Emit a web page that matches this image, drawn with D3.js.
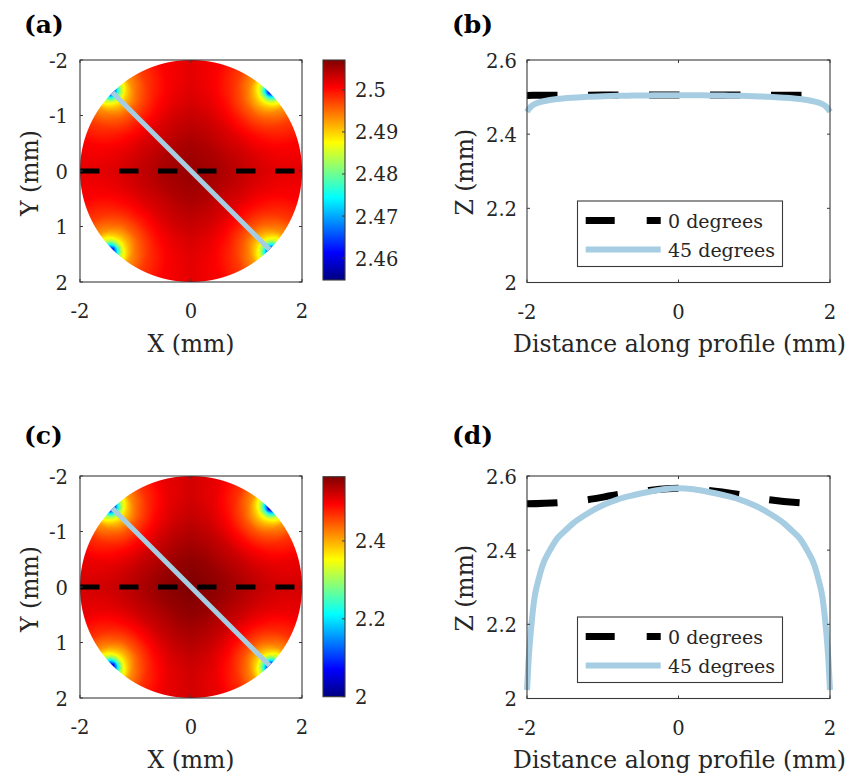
<!DOCTYPE html>
<html><head><meta charset="utf-8">
<script src="https://cdn.jsdelivr.net/npm/d3@7"></script>
<style>
body{margin:0;background:#fff}
svg{display:block}
text{font-family:"DejaVu Serif",serif;fill:#262626}
</style>
</head><body>
<svg id="fig" width="849" height="776"></svg>
<script>
// ---------------- DATA ----------------
// Surface maps: polar grid (radius in mm x folded angle in degrees, 4-fold symmetric)
const gridRadii = [0, 0.5, 1.0, 1.3, 1.55, 1.72, 1.82, 1.9, 1.95, 2.0];
const gridAngles = [0, 15, 27, 35, 40, 43, 45];
const surfaceA = [
  [2.5060,2.5060,2.5060,2.5060,2.5060,2.5060,2.5060],
  [2.5050,2.5049,2.5048,2.5048,2.5048,2.5048,2.5048],
  [2.5034,2.5030,2.5026,2.5023,2.5022,2.5021,2.5021],
  [2.5025,2.5017,2.5005,2.4996,2.4993,2.4992,2.4991],
  [2.5021,2.5010,2.4988,2.4968,2.4958,2.4955,2.4955],
  [2.5020,2.5007,2.4980,2.4950,2.4923,2.4913,2.4911],
  [2.5020,2.5007,2.4977,2.4938,2.4897,2.4877,2.4873],
  [2.5020,2.5007,2.4976,2.4931,2.4867,2.4808,2.4799],
  [2.5019,2.5007,2.4975,2.4927,2.4850,2.4740,2.4689],
  [2.5020,2.5008,2.4976,2.4927,2.4833,2.4680,2.4599]
];
const surfaceC = [
  [2.5670,2.5670,2.5670,2.5670,2.5670,2.5670,2.5670],
  [2.5550,2.5540,2.5530,2.5527,2.5526,2.5525,2.5525],
  [2.5366,2.5313,2.5265,2.5236,2.5221,2.5216,2.5216],
  [2.5261,2.5168,2.5023,2.4917,2.4878,2.4866,2.4864],
  [2.5212,2.5082,2.4825,2.4586,2.4473,2.4437,2.4431],
  [2.5196,2.5051,2.4729,2.4374,2.4059,2.3939,2.3915],
  [2.5195,2.5048,2.4690,2.4234,2.3757,2.3522,2.3470],
  [2.5194,2.5050,2.4676,2.4150,2.3400,2.2700,2.2600],
  [2.5192,2.5052,2.4673,2.4100,2.3200,2.1900,2.1300],
  [2.5195,2.5060,2.4684,2.4100,2.3000,2.1200,2.0250]
];
const colorDomainA = [2.4548, 2.5071];
const colorDomainC = [2.0, 2.565];
const colorTicksA = [2.46, 2.47, 2.48, 2.49, 2.5];
const colorTickLabelsA = ["2.46", "2.47", "2.48", "2.49", "2.5"];
const colorTicksC = [2.0, 2.2, 2.4];
const colorTickLabelsC = ["2", "2.2", "2.4"];
const mapXTicks = [-2, 0, 2];
const mapXTickLabels = ["-2", "0", "2"];
const mapYTicks = [-2, -1, 0, 1, 2];
const mapYTickLabels = ["-2", "-1", "0", "1", "2"];

// Profiles
const profileX45 = [-2,-1.98,-1.95,-1.9,-1.85,-1.8,-1.7,-1.6,-1.5,-1.4,-1.2,-1.0,-0.8,-0.6,-0.4,-0.2,0,
                    0.2,0.4,0.6,0.8,1.0,1.2,1.4,1.5,1.6,1.7,1.8,1.85,1.9,1.95,1.98,2];
const profileB45 = [2.460,2.467,2.474,2.481,2.485,2.488,2.492,2.495,2.497,2.4985,2.501,2.5025,2.5035,2.504,2.5045,2.505,2.505,
                    2.505,2.5045,2.504,2.5035,2.5025,2.501,2.4985,2.497,2.495,2.492,2.488,2.485,2.481,2.474,2.467,2.460];
const profileD45 = [2.023,2.100,2.180,2.273,2.319,2.356,2.399,2.432,2.452,2.471,2.499,2.521,2.537,2.548,2.557,2.564,2.567,
                    2.564,2.557,2.548,2.537,2.521,2.499,2.471,2.452,2.432,2.399,2.356,2.319,2.273,2.180,2.100,2.023];
const profileX0 = [-2,-1.6,-1.2,-0.8,-0.4,0,0.4,0.8,1.2,1.6,2];
const profileB0 = [2.5045,2.5050,2.5052,2.5054,2.5056,2.5057,2.5056,2.5054,2.5052,2.5050,2.5045];
const profileD0 = [2.525,2.528,2.536,2.550,2.561,2.567,2.561,2.550,2.536,2.528,2.525];
const profXTicks = [-2, 0, 2];
const profXTickLabels = ["-2", "0", "2"];
const profYTicks = [2, 2.2, 2.4, 2.6];
const profYTickLabels = ["2", "2.2", "2.4", "2.6"];
const legendLabels = ["0 degrees", "45 degrees"];
const panelTitles = ["(a)", "(b)", "(c)", "(d)"];

// ---------------- STYLE ----------------
const AX = "#3a3a3a";
const BLUE = "#a6cde2";
const jetStops = [0, 0.125, 0.375, 0.625, 0.875, 1];
const jetColors = ["#000080", "#0000ff", "#00ffff", "#ffff00", "#ff0000", "#800000"];

const svg = d3.select("#fig");

function jetScale(dom) {
  return d3.scaleLinear()
    .domain(jetStops.map(t => dom[0] + t * (dom[1] - dom[0])))
    .range(jetColors).interpolate(d3.interpolateRgb).clamp(true);
}

function bracket(arr, v) {
  let i = 0;
  while (i < arr.length - 2 && v > arr[i + 1]) i++;
  let f = (v - arr[i]) / (arr[i + 1] - arr[i]);
  f = Math.max(0, Math.min(1, f));
  return [i, f];
}
function sampleGrid(grid, r, phi) {
  const [i, fr] = bracket(gridRadii, r);
  const [j, fa] = bracket(gridAngles, phi);
  const v00 = grid[i][j], v01 = grid[i][j + 1], v10 = grid[i + 1][j], v11 = grid[i + 1][j + 1];
  return (v00 * (1 - fa) + v01 * fa) * (1 - fr) + (v10 * (1 - fa) + v11 * fa) * fr;
}

function frame(g, x0, y0, w, h) {
  g.append("rect").attr("x", x0).attr("y", y0).attr("width", w).attr("height", h)
    .attr("fill", "none").attr("stroke", AX).attr("stroke-width", 1.1);
}

function axesTicks(g, xs, ys, xTicks, xLabels, yTicks, yLabels, x0, y0, w, h, yLabelRight, xLabY) {
  const tl = 3;
  xTicks.forEach((t, k) => {
    const px = xs(t);
    g.append("line").attr("x1", px).attr("x2", px).attr("y1", y0 + h).attr("y2", y0 + h - tl).attr("stroke", AX);
    g.append("line").attr("x1", px).attr("x2", px).attr("y1", y0).attr("y2", y0 + tl).attr("stroke", AX);
    g.append("text").attr("x", px).attr("y", xLabY).attr("text-anchor", "middle")
      .style("font-size", "19.5px").text(xLabels[k]);
  });
  yTicks.forEach((t, k) => {
    const py = ys(t);
    g.append("line").attr("x1", x0).attr("x2", x0 + tl).attr("y1", py).attr("y2", py).attr("stroke", AX);
    g.append("line").attr("x1", x0 + w).attr("x2", x0 + w - tl).attr("y1", py).attr("y2", py).attr("stroke", AX);
    g.append("text").attr("x", yLabelRight).attr("y", py + 7.5).attr("text-anchor", "end")
      .style("font-size", "19.5px").text(yLabels[k]);
  });
}

function mapPanel(opt) {
  const g = svg.append("g");
  const S = 222;
  const x0 = opt.x0, y0 = opt.y0;
  const xs = d3.scaleLinear().domain([-2, 2]).range([x0, x0 + S]);
  const ys = d3.scaleLinear().domain([-2, 2]).range([y0, y0 + S]);
  const color = jetScale(opt.domain);
  const cv = document.createElement("canvas");
  cv.width = S; cv.height = S;
  const ctx = cv.getContext("2d");
  const img = ctx.createImageData(S, S);
  const pxPerMm = S / 4;
  for (let py = 0; py < S; py++) {
    for (let px = 0; px < S; px++) {
      const X = xs.invert(x0 + px + 0.5), Y = ys.invert(y0 + py + 0.5);
      const r = Math.hypot(X, Y);
      const alpha = Math.max(0, Math.min(1, (2 - r) * pxPerMm + 0.5));
      const k = (py * S + px) * 4;
      if (alpha <= 0) { img.data[k + 3] = 0; continue; }
      const th = Math.atan2(Math.abs(Y), Math.abs(X)) * 180 / Math.PI;
      const phi = th > 45 ? 90 - th : th;
      const v = sampleGrid(opt.grid, Math.min(r, 2), phi);
      const c = d3.rgb(color(v));
      img.data[k] = c.r; img.data[k + 1] = c.g; img.data[k + 2] = c.b; img.data[k + 3] = Math.round(alpha * 255);
    }
  }
  ctx.putImageData(img, 0, 0);
  g.append("image").attr("x", x0).attr("y", y0).attr("width", S).attr("height", S)
    .attr("href", cv.toDataURL());
  const line = d3.line().x(d => xs(d[0])).y(d => ys(d[1]));
  g.append("path").attr("d", line([[-2, 0], [2, 0]])).attr("stroke", "#000").attr("stroke-width", 5)
    .attr("stroke-dasharray", "19.5,19.5").attr("fill", "none");
  const a = 2 * Math.SQRT1_2;
  g.append("path").attr("d", line([[-a, -a], [a, a]])).attr("stroke", BLUE).attr("stroke-width", 5)
    .attr("fill", "none");
  frame(g, x0, y0, S, S);
  axesTicks(g, xs, ys, mapXTicks, mapXTickLabels, mapYTicks, mapYTickLabels, x0, y0, S, S, 68, y0 + S + 36);
  g.append("text").attr("x", x0 + S / 2).attr("y", opt.xLabY).attr("text-anchor", "middle")
    .style("font-size", "23.5px").text("X (mm)");
  g.append("text").attr("transform", `translate(38,${y0 + S / 2 + 2}) rotate(-90)`).attr("text-anchor", "middle")
    .style("font-size", "23.5px").text("Y (mm)");
  g.append("text").attr("x", 24).attr("y", opt.titleY).style("font-size", "25px").style("font-weight", "bold")
    .style("fill", "#000").text(opt.title);
  // colorbar
  const cbx = 323, cbw = 22, cby0 = opt.cbTop, cby1 = opt.cbBottom;
  const cs = d3.scaleLinear().domain(opt.domain).range([cby1, cby0]);
  const gid = "grad" + opt.title.replace(/[()]/g, "");
  const grad = svg.append("defs").append("linearGradient").attr("id", gid)
    .attr("x1", 0).attr("y1", 1).attr("x2", 0).attr("y2", 0);
  jetStops.forEach((t, k) => grad.append("stop").attr("offset", t).attr("stop-color", jetColors[k]));
  g.append("rect").attr("x", cbx).attr("y", cby0).attr("width", cbw).attr("height", cby1 - cby0)
    .attr("fill", `url(#${gid})`).attr("stroke", AX).attr("stroke-width", 1.1);
  opt.cbTicks.forEach((t, k) => {
    const py = cs(t);
    g.append("line").attr("x1", cbx + cbw - 3).attr("x2", cbx + cbw).attr("y1", py).attr("y2", py).attr("stroke", AX);
    g.append("text").attr("x", 355).attr("y", py + 7.5).style("font-size", "19.5px").text(opt.cbLabels[k]);
  });
}

function profilePanel(opt) {
  const g = svg.append("g");
  const x0 = 527, w = 303, y0 = opt.y0, h = 222.5;
  const xs = d3.scaleLinear().domain([-2, 2]).range([x0, x0 + w]);
  const ys = d3.scaleLinear().domain([2, 2.6]).range([y0 + h, y0]);
  const line = d3.line().x(d => xs(d[0])).y(d => ys(d[1])).curve(d3.curveMonotoneX);
  g.append("path").attr("d", line(profileX0.map((x, i) => [x, opt.z0[i]])))
    .attr("stroke", "#000").attr("stroke-width", 7).attr("stroke-dasharray", "30.5,30.5").attr("fill", "none");
  g.append("path").attr("d", line(profileX45.map((x, i) => [x, opt.z45[i]])))
    .attr("stroke", BLUE).attr("stroke-width", 6).attr("fill", "none");
  frame(g, x0, y0, w, h);
  axesTicks(g, xs, ys, profXTicks, profXTickLabels, profYTicks, profYTickLabels, x0, y0, w, h, 517, y0 + h + 36);
  g.append("text").attr("x", x0 + w / 2 + 1).attr("y", opt.xLabY).attr("text-anchor", "middle")
    .style("font-size", "23.5px").text("Distance along profile (mm)");
  g.append("text").attr("transform", `translate(473,${y0 + h / 2 + 1}) rotate(-90)`).attr("text-anchor", "middle")
    .style("font-size", "23.5px").text("Z (mm)");
  g.append("text").attr("x", 452).attr("y", opt.titleY).style("font-size", "25px").style("font-weight", "bold")
    .style("fill", "#000").text(opt.title);
  const lx0 = 577.5, lx1 = 782.5, ly0 = opt.legTop, lh = 65.5;
  g.append("rect").attr("x", lx0).attr("y", ly0).attr("width", lx1 - lx0).attr("height", lh)
    .attr("fill", "#fff").attr("stroke", AX).attr("stroke-width", 1.1);
  const rows = [ly0 + 19.5, ly0 + 48.5];
  g.append("line").attr("x1", 585.7).attr("x2", 660.7).attr("y1", rows[0]).attr("y2", rows[0])
    .attr("stroke", "#000").attr("stroke-width", 7).attr("stroke-dasharray", "29,32");
  g.append("line").attr("x1", 585.7).attr("x2", 660.7).attr("y1", rows[1]).attr("y2", rows[1])
    .attr("stroke", BLUE).attr("stroke-width", 6);
  legendLabels.forEach((t, k) => {
    g.append("text").attr("x", 668).attr("y", rows[k] + 7).style("font-size", "19px").text(t);
  });
}

mapPanel({ x0: 80, y0: 60, grid: surfaceA, domain: colorDomainA, cbTicks: colorTicksA, cbLabels: colorTickLabelsA,
  cbTop: 60, cbBottom: 280, title: panelTitles[0], titleY: 33, xLabY: 352 });
mapPanel({ x0: 80, y0: 476, grid: surfaceC, domain: colorDomainC, cbTicks: colorTicksC, cbLabels: colorTickLabelsC,
  cbTop: 476.7, cbBottom: 696.7, title: panelTitles[2], titleY: 444, xLabY: 768 });
profilePanel({ y0: 60, z0: profileB0, z45: profileB45, title: panelTitles[1], titleY: 33, xLabY: 352, legTop: 201 });
profilePanel({ y0: 476, z0: profileD0, z45: profileD45, title: panelTitles[3], titleY: 444, xLabY: 768, legTop: 617 });
</script>
</body></html>
